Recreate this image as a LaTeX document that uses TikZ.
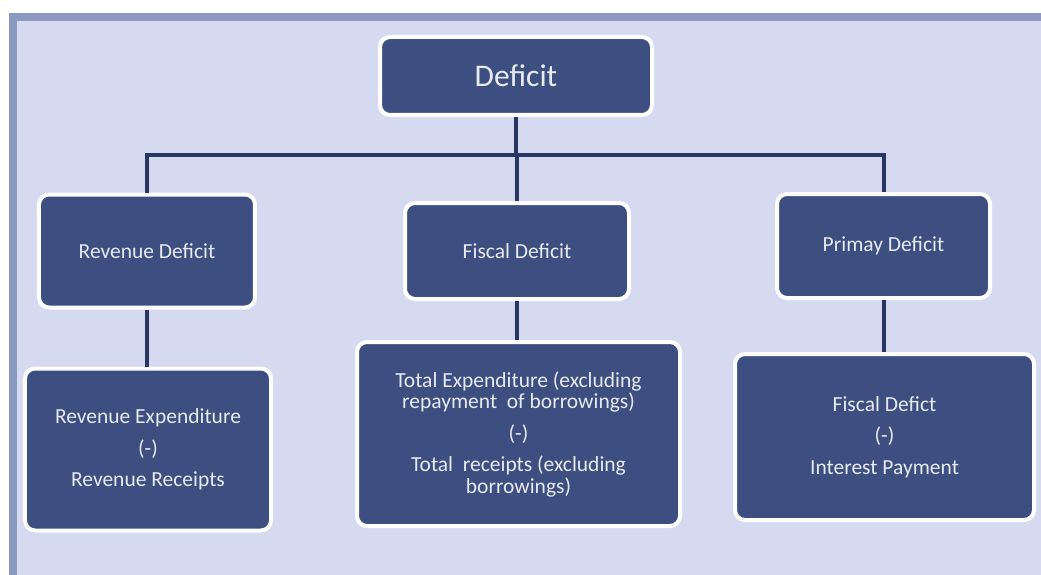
\documentclass[tikz,border=0pt]{standalone}
\usepackage{fontspec}
\setmainfont{Carlito}
\usetikzlibrary{positioning}
\definecolor{panelFill}{RGB}{213,218,240}
\definecolor{panelEdge}{RGB}{140,151,194}
\definecolor{boxFill}{RGB}{61,79,128}
\definecolor{linkColor}{RGB}{42,54,98}
\tikzset{%
    base/.style = {
        rectangle, rounded corners=10bp, draw=white, line width=4bp,
        fill=boxFill, text=white!88!boxFill, align=center, inner sep=0pt,
        font=\fontsize{21.5bp}{21.5bp}\selectfont
    },
    head/.style = {base, font=\fontsize{31.5bp}{34bp}\selectfont},
    branch/.style = {base},
    formula/.style = {base},
    link/.style = {draw=linkColor, line width=4bp},
}

\begin{document}
\begin{tikzpicture}[
        x=1bp, y=1bp,
        node distance=175bp
    ]
        \useasboundingbox (0,0) rectangle (1041,-575);
        % Background panel
        \fill[panelEdge] (9,-13) rectangle (1041,-575);
        \fill[panelFill] (17,-21) rectangle (1041,-575);

        % Nodes position
        \node (deficit)   [head, minimum width=272bp, minimum height=78bp]
                                at (516,-76) {Deficit};
        \node (fiscal)    [branch, minimum width=224bp, minimum height=96bp,
                                below of=deficit, xshift=1bp]
                                {Fiscal Deficit};
        \node (revenue)   [branch, minimum width=216bp, minimum height=113bp,
                                node distance=370bp, left of=fiscal]
                                {Revenue Deficit};
        \node (primary)   [branch, minimum width=213bp, minimum height=104bp,
                                node distance=366.5bp, right of=fiscal, yshift=5bp]
                                {Primay Deficit};

        \node (revExp)    [formula, minimum width=246bp, minimum height=162bp,
                                node distance=198.5bp, below of=revenue, xshift=1bp]
                                {Revenue Expenditure\\[10bp](-)\\[10bp]Revenue Receipts};
        \node (totalExp)  [formula, minimum width=323bp, minimum height=184bp,
                                node distance=183bp, below of=fiscal, xshift=1.5bp]
                                {Total Expenditure (excluding\\repayment\ \ of borrowings)\\[10bp](-)\\[10bp]Total\ \ receipts (excluding\\borrowings)};
        \node (fiscalInt) [formula, minimum width=299bp, minimum height=166bp,
                                node distance=191bp, below of=primary, xshift=1bp]
                                {Fiscal Defict\\[10bp](-)\\[10bp]Interest Payment};

        % Connector specification
        \coordinate (bus) at (0,-155);
        \draw[link] (deficit.south) -- (deficit.south |- bus);
        \draw[link] (revenue.north) |- (primary.north |- bus) -- (primary.north);
        \draw[link] (fiscal.north) -- (fiscal.north |- bus);
        \draw[link] (revenue.south) -- (revenue.south |- revExp.north);
        \draw[link] (fiscal.south) -- (fiscal.south |- totalExp.north);
        \draw[link] (primary.south) -- (primary.south |- fiscalInt.north);
    \end{tikzpicture}
\end{document}
